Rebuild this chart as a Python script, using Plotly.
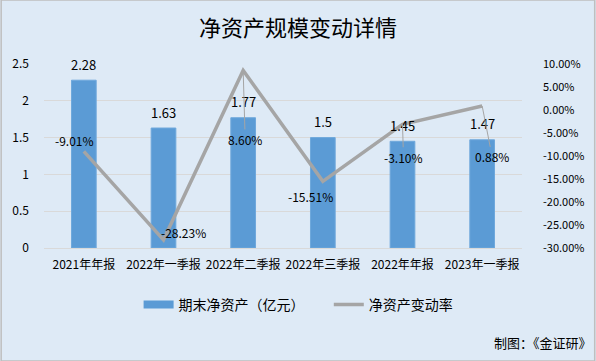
import plotly.graph_objects as go

categories = ["2021年年报", "2022年一季报", "2022年二季报", "2022年三季报", "2022年年报", "2023年一季报"]
net_assets = [2.28, 1.63, 1.77, 1.5, 1.45, 1.47]
change_rate = [-9.01, -28.23, 8.60, -15.51, -3.10, 0.88]
rate_labels = ["-9.01%", "-28.23%", "8.60%", "-15.51%", "-3.10%", "0.88%"]
left_ticks = [0, 0.5, 1, 1.5, 2, 2.5]
left_tick_text = ["0", "0.5", "1", "1.5", "2", "2.5"]
right_ticks = [-30, -25, -20, -15, -10, -5, 0, 5, 10]
right_tick_text = ["-30.00%", "-25.00%", "-20.00%", "-15.00%", "-10.00%", "-5.00%", "0.00%", "5.00%", "10.00%"]

FONT = "Noto Sans CJK SC, Microsoft YaHei, sans-serif"
BG = "#DEEAF6"
BAR_C = "#5B9BD5"
LINE_C = "#A5A5A5"

fig = go.Figure()
fig.add_trace(go.Bar(
    x=categories, y=net_assets, name="期末净资产（亿元）", showlegend=False,
    marker=dict(color=BAR_C, line=dict(color="#6FA8DC", width=1)),
    width=0.31,
))
fig.add_trace(go.Scatter(
    x=categories, y=change_rate, name="净资产变动率", yaxis="y2", showlegend=False,
    mode="lines", line=dict(color=LINE_C, width=3.5),
))
# legend entries (wide swatches as in reference)
fig.add_trace(go.Scatter(x=[categories[0]], y=[None], name="期末净资产（亿元）", mode="lines",
                         line=dict(color=BAR_C, width=8), legend="legend"))
fig.add_trace(go.Scatter(x=[categories[0]], y=[None], name="净资产变动率", mode="lines", yaxis="y2",
                         line=dict(color=LINE_C, width=3.5), legend="legend2"))

# bar value labels
for c, v in zip(categories, net_assets):
    fig.add_annotation(x=c, y=v, text=str(v), showarrow=False, yanchor="middle", yshift=16,
                       font=dict(size=13, color="#000000", family=FONT))

# rate label placement offsets (pixels): (xshift, yshift, leader)
label_pos = [(-9, 11, False), (20, 7, False), (2, -69, True), (-12, -15, False), (1, -33, True), (10, -51, True)]
for c, v, t, (dx, dy, lead) in zip(categories, change_rate, rate_labels, label_pos):
    if lead:
        fig.add_annotation(x=c, y=v, yref="y2", text=t, showarrow=True,
                           ax=dx, ay=-dy, arrowhead=0, arrowwidth=1, arrowcolor=LINE_C,
                           standoff=0, startstandoff=0,
                           font=dict(size=12, color="#000000", family=FONT))
    else:
        fig.add_annotation(x=c, y=v, yref="y2", text=t, showarrow=False,
                           xshift=dx, yshift=dy,
                           font=dict(size=12, color="#000000", family=FONT))

fig.add_annotation(xref="paper", yref="paper", x=(595 - 43) / 480, y=(248 - 342) / 184,
                   xanchor="right", yanchor="middle",
                   text="制图：《金证研》", showarrow=False,
                   font=dict(size=13, color="#000000", family=FONT))

legend_common = dict(orientation="h", yanchor="middle", y=(248 - 305) / 184, xanchor="left",
                     font=dict(size=14, color="#000000"), bgcolor="rgba(0,0,0,0)", itemwidth=30)

fig.update_layout(
    width=596, height=361,
    paper_bgcolor=BG, plot_bgcolor=BG,
    margin=dict(l=43, r=73, t=64, b=113),
    font=dict(family=FONT, size=12, color="#000000"),
    title=dict(text="净资产规模变动详情", x=0.5, xanchor="center", y=1 - 28/361, yanchor="middle",
               font=dict(size=22, color="#000000", family=FONT)),
    showlegend=True,
    legend=dict(x=(138 - 43) / 480, **legend_common),
    legend2=dict(x=(329 - 43) / 480, **legend_common),
    xaxis=dict(showgrid=False, showline=True, linecolor="#D9D9D9", tickfont=dict(size=12),
               ticks="", fixedrange=True, ticklabelstandoff=6),
    yaxis=dict(range=[0, 2.5], tickvals=left_ticks, ticktext=left_tick_text, showgrid=True,
               gridcolor="#D9D9D9", gridwidth=1, zeroline=False, showline=False,
               tickfont=dict(size=12), ticklabelstandoff=14),
    yaxis2=dict(range=[-30, 10], tickvals=right_ticks, ticktext=right_tick_text, overlaying="y",
                side="right", showgrid=False, zeroline=False, showline=False,
                tickfont=dict(size=11), ticklabelstandoff=20),
    shapes=[dict(type="rect", xref="paper", yref="paper", x0=-43/480, x1=1+73/480, y0=-113/184, y1=1+64/184,
                 line=dict(color="#BFBFBF", width=1.5), fillcolor="rgba(0,0,0,0)")],
)

fig.write_html("out.html", config={"displayModeBar": False},
               post_script="document.body.style.margin='0px';document.body.style.padding='0px';")
